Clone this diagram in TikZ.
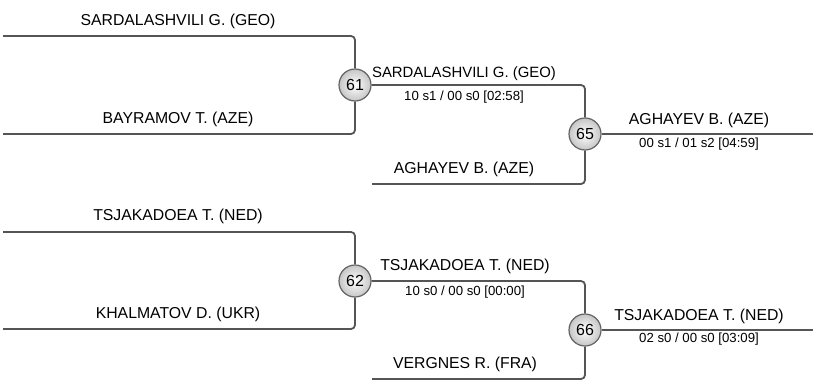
\documentclass[tikz,border=0pt]{standalone}
\usepackage{fontspec}
\setmainfont{Liberation Sans}
\definecolor{BracketGray}{RGB}{85,85,85}
\definecolor{BoutEdge}{RGB}{100,100,100}
\usetikzlibrary{positioning}

\begin{document}
\begin{tikzpicture}[x=1pt, y=-1pt,
  bracket/.style={draw=BracketGray, line width=1.8pt, rounded corners=4pt},
  bout/.style={circle, draw=BoutEdge, line width=1.2pt, minimum size=32pt, inner sep=0pt,
    inner color=white, outer color=gray!45, font=\fontsize{16}{16}\selectfont},
  athlete/.style={anchor=base, inner sep=0pt, font=\fontsize{15.8}{16}\selectfont},
  score/.style={anchor=base, inner sep=0pt, font=\fontsize{13.2}{13}\selectfont}
]
    \useasboundingbox (0,0) rectangle (813,383);

    % first half
    \node[bout] (m61) at (355,85) {61};
    \node[bout] (m65) at (585,134) {65};
    \coordinate (s1) at (3,36);
    \coordinate (s2) at (3,134);
    \coordinate (s3) at (372,184);
    \coordinate (f65) at (813,134);

    \draw[bracket] (s1) -| (m61);
    \draw[bracket] (s2) -| (m61);
    \draw[bracket] (m61) -| (m65);
    \draw[bracket] (s3) -| (m65);
    \draw[bracket] (m65) -- (f65);

    \node[athlete] (a1) at (178,25.5) {SARDALASHVILI G. (GEO)};
    \node[athlete] (a2) at (178,123.5) {BAYRAMOV T. (AZE)};
    \node[athlete, font=\fontsize{14.9}{15}\selectfont] (w61) at (464,77) {SARDALASHVILI G. (GEO)};
    \node[score] (r61) at (464,100) {10 s1 / 00 s0 [02:58]};
    \node[athlete] (a3) at (464,173.5) {AGHAYEV B. (AZE)};
    \node[athlete] (w65) at (699,124.5) {AGHAYEV B. (AZE)};
    \node[score] (r65) at (699,147) {00 s1 / 01 s2 [04:59]};

    % second half
    \node[bout] (m62) at (355,281) {62};
    \node[bout] (m66) at (585,330) {66};
    \coordinate (s4) at (3,232);
    \coordinate (s5) at (3,329);
    \coordinate (s6) at (372,379);
    \coordinate (f66) at (813,330);

    \draw[bracket] (s4) -| (m62);
    \draw[bracket] (s5) -| (m62);
    \draw[bracket] (m62) -| (m66);
    \draw[bracket] (s6) -| (m66);
    \draw[bracket] (m66) -- (f66);

    \node[athlete] (a4) at (178,220.5) {TSJAKADOEA T. (NED)};
    \node[athlete] (a5) at (178,318.5) {KHALMATOV D. (UKR)};
    \node[athlete] (w62) at (465,270.5) {TSJAKADOEA T. (NED)};
    \node[score] (r62) at (465,295) {10 s0 / 00 s0 [00:00]};
    \node[athlete] (a6) at (465,368.5) {VERGNES R. (FRA)};
    \node[athlete] (w66) at (699,320) {TSJAKADOEA T. (NED)};
    \node[score] (r66) at (699,342) {02 s0 / 00 s0 [03:09]};
\end{tikzpicture}
\end{document}
